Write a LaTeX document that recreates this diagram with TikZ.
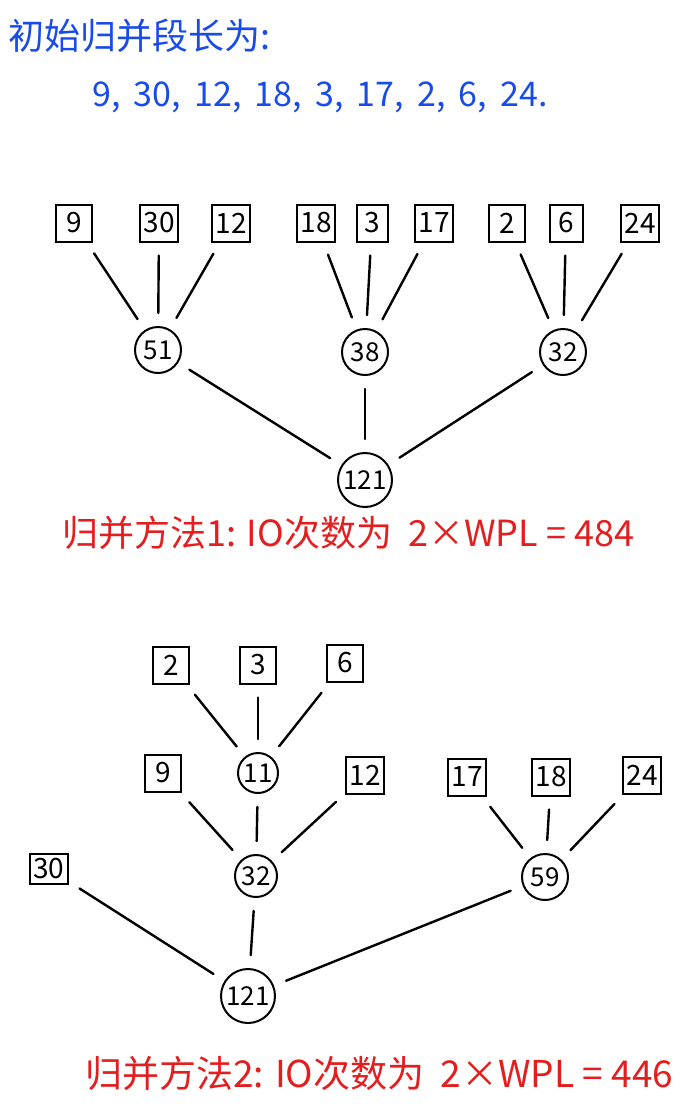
\documentclass[tikz,border=0pt]{standalone}
\usepackage{fontspec}
\setmainfont{Noto Sans CJK SC}
\definecolor{penblue}{RGB}{25,75,235}
\definecolor{penred}{RGB}{228,30,30}
\tikzset{
  leaf/.style={draw, line width=2pt, minimum width=36pt, minimum height=37pt, inner sep=3pt, font=\fontsize{28}{30}\selectfont},
  inner/.style={draw, circle, line width=2pt, minimum size=46pt, inner sep=1pt, font=\fontsize{26}{28}\selectfont},
  root/.style={inner, minimum size=54pt},
  edge/.style={line width=2.4pt, line cap=round, shorten <=13pt, shorten >=13pt},
  bluetext/.style={text=penblue, anchor=west, inner sep=0pt},
  redtext/.style={text=penred, anchor=west, inner sep=0pt}
}
\begin{document}
\begin{tikzpicture}[x=1pt,y=-1pt]
\useasboundingbox (0,0) rectangle (692,1104);
% header
\node[bluetext, font=\fontsize{36}{38}\selectfont] (title) at (8,36) {初始归并段长为:};
\node[bluetext, font=\fontsize{34}{36}\selectfont] (list) at (92,97) {9,\, 30,\, 12,\, 18,\, 3,\, 17,\, 2,\, 6,\, 24.};
% tree 1
\node[leaf] (a9) at (74,223) {9};
\node[leaf] (a30) at (159,223) {30};
\node[leaf] (a12) at (231,223) {12};
\node[leaf] (a18) at (316,223) {18};
\node[leaf, minimum width=31pt] (a3) at (372,223) {3};
\node[leaf] (a17) at (434,223) {17};
\node[leaf] (a2) at (507,223) {2};
\node[leaf, minimum width=33pt] (a6) at (566,223) {6};
\node[leaf] (a24) at (640,223) {24};
\node[inner] (a51) at (158,350) {51};
\node[inner] (a38) at (365,352) {38};
\node[inner] (a32) at (563,352) {32};
\node[root] (a121) at (365,480) {121};
\foreach \s/\t in {a9/a51,a30/a51,a12/a51,a18/a38,a3/a38,a17/a38,a2/a32,a6/a32,a24/a32,a51/a121,a38/a121,a32/a121}
  \draw[edge] (\s) -- (\t);
\node[redtext, font=\fontsize{36}{38}\selectfont] (res1) at (62,533) {归并方法1: IO次数为\ \ 2×WPL = 484};
% tree 2
\node[leaf] (b2) at (171,665) {2};
\node[leaf] (b3) at (258,665) {3};
\node[leaf] (b6) at (345,663) {6};
\node[inner, minimum size=40pt] (b11) at (258,773) {11};
\node[leaf] (b9) at (163,773) {9};
\node[leaf] (b12) at (365,775) {12};
\node[leaf] (b17) at (467,777) {17};
\node[leaf] (b18) at (551,777) {18};
\node[leaf] (b24) at (642,775) {24};
\node[inner, minimum size=42pt] (b32) at (256,876) {32};
\node[inner] (b59) at (545,877) {59};
\node[leaf, minimum height=30pt] (b30) at (49,869) {30};
\node[root] (b121) at (248,996) {121};
\foreach \s/\t in {b2/b11,b3/b11,b6/b11,b9/b32,b11/b32,b12/b32,b17/b59,b18/b59,b24/b59,b30/b121,b32/b121,b59/b121}
  \draw[edge] (\s) -- (\t);
\node[redtext, font=\fontsize{37}{39}\selectfont] (res2) at (85,1073) {归并方法2: IO次数为\ \ 2×WPL = 446};
\end{tikzpicture}
\end{document}
